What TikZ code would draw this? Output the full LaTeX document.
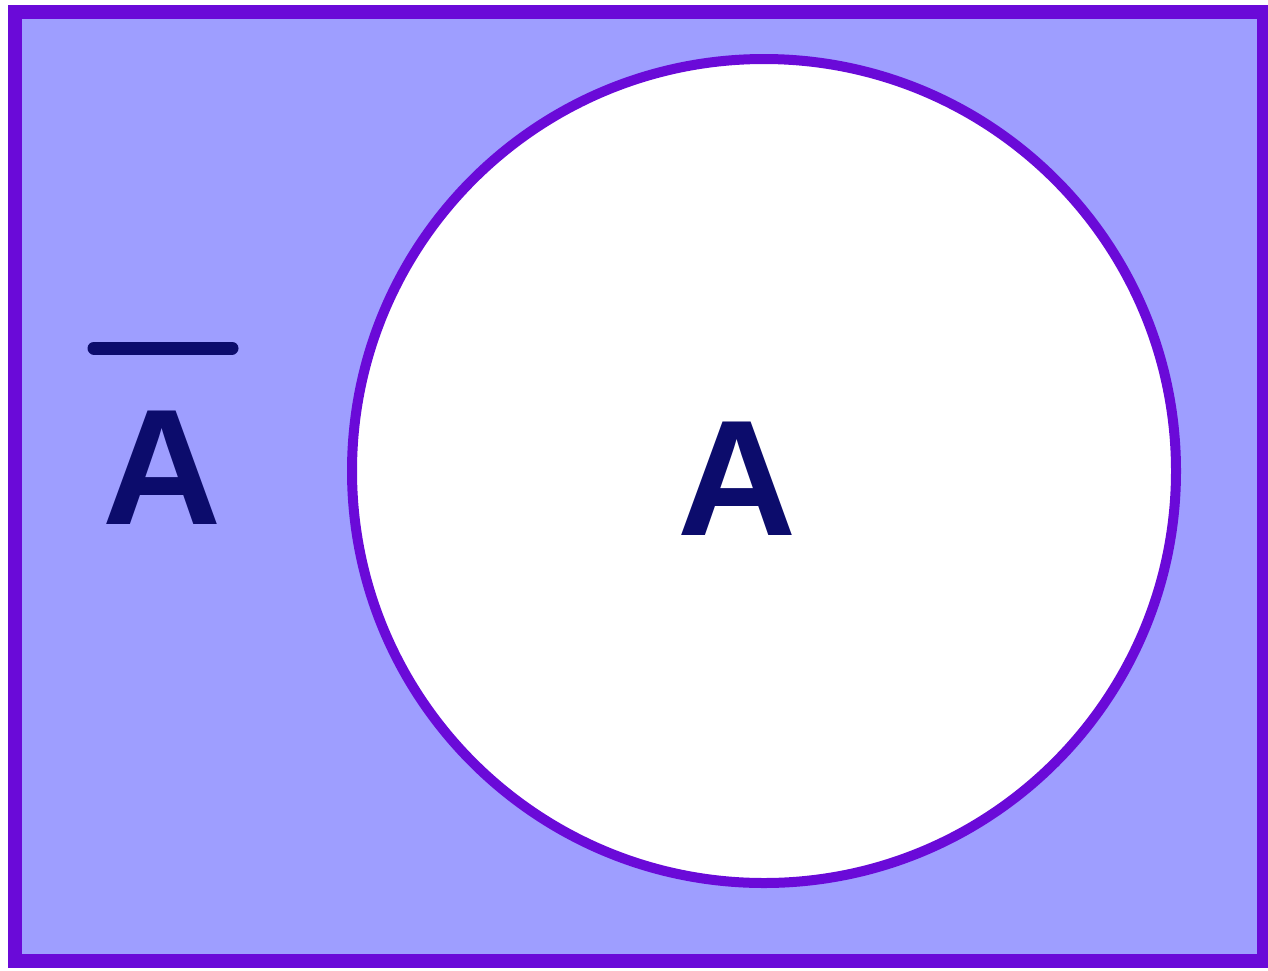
\documentclass[tikz,border=0pt]{standalone}
\usepackage{fontspec}
\setmainfont{Liberation Sans}
\definecolor{setfill}{HTML}{9E9EFF}
\definecolor{setline}{HTML}{6A0AD8}
\definecolor{labelcol}{HTML}{0C0C6C}
\tikzset{
  universe/.style={draw=setline, fill=setfill, line width=14pt},
  setcircle/.style={draw=setline, fill=white, line width=10pt},
  setlabel/.style={text=labelcol, inner sep=0pt, font=\fontsize{165}{165}\selectfont\bfseries},
  barline/.style={draw=labelcol, line width=13pt, line cap=round}
}
\begin{document}
\begin{tikzpicture}[x=1pt,y=-1pt]
\useasboundingbox (0,0) rectangle (1268,970);
\fill[white] (0,0) rectangle (1268,970);
\draw[universe] (15,12) rectangle (1264,961);
\draw[setcircle] (764,471) circle (412);
\node[setlabel] (a) at (737,479) {A};
\node[setlabel] (abar) at (162,468) {A};
\coordinate (barL) at (94,348);
\coordinate (barR) at (232,348);
\draw[barline] (barL) -- (barR);
\end{tikzpicture}
\end{document}
